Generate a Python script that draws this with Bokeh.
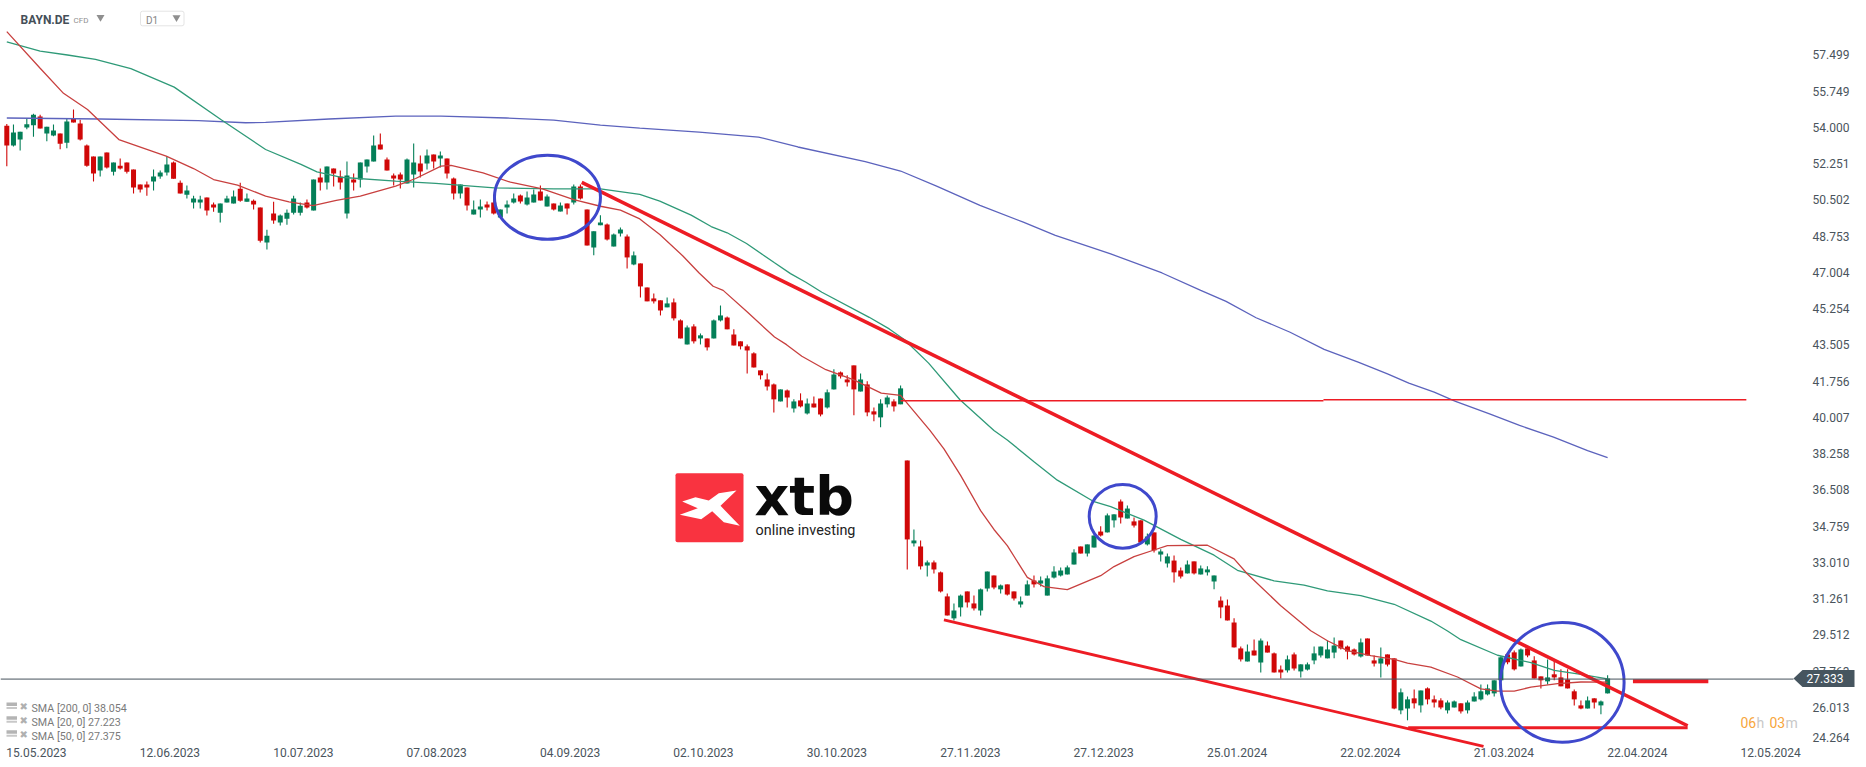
#!/usr/bin/env python3
"""
BAYN.DE daily chart with moving averages and hand drawn trend lines.

Values were read off the picture, so they are estimates.
"""

from bokeh.core.properties import value
from bokeh.embed import file_html
from bokeh.models import ColumnDataSource, FixedTicker, LinearAxis, Range1d
from bokeh.plotting import figure
from bokeh.resources import INLINE

opens = [
    54.08, 53.12, 53.41, 53.99, 54.10, 54.52, 53.70, 53.60, 53.70, 53.26,
    54.42, 54.18, 53.12, 52.59, 51.91, 52.78, 51.86, 52.15, 52.30, 51.96,
    51.24, 51.24, 51.38, 51.62, 51.82, 52.30, 51.33, 50.75, 50.37, 50.37,
    50.61, 50.27, 49.88, 50.37, 50.32, 51.04, 50.41, 50.46, 50.13, 48.44,
    49.84, 49.40, 49.59, 49.88, 49.88, 50.37, 49.99, 51.58, 51.34, 52.01,
    51.63, 49.84, 51.48, 51.48, 52.11, 52.35, 53.17, 52.45, 51.67, 51.72,
    51.29, 51.72, 52.25, 52.25, 52.69, 52.50, 52.50, 51.53, 50.81, 51.10,
    49.79, 50.03, 50.27, 50.37, 49.65, 50.13, 50.37, 50.71, 50.27, 50.37,
    50.90, 50.18, 50.32, 49.94, 50.32, 50.37, 51.14, 50.03, 48.20, 49.27,
    49.31, 48.25, 48.88, 48.73, 47.38, 47.43, 46.27, 45.74, 45.65, 45.31,
    45.55, 44.68, 43.52, 44.39, 43.81, 43.81, 43.81, 44.68, 44.82, 44.00,
    43.67, 43.43, 43.09, 42.27, 41.83, 41.59, 40.77, 41.30, 40.43, 40.82,
    40.19, 40.67, 40.91, 40.48, 41.35, 42.17, 41.83, 42.51, 41.25, 41.59,
    40.29, 40.00, 40.63, 40.77, 40.63, 37.92, 33.92, 33.77, 32.85, 33.00,
    32.52, 31.36, 30.30, 30.83, 31.60, 31.02, 30.68, 31.74, 32.37, 31.70,
    31.94, 31.60, 30.97, 31.40, 32.13, 31.98, 31.40, 32.27, 32.37, 32.42,
    32.90, 33.77, 33.43, 33.72, 34.49, 34.45, 35.03, 35.94, 35.12, 34.98,
    35.03, 33.87, 34.45, 33.38, 32.95, 33.09, 32.61, 32.47, 33.05, 32.42,
    32.52, 32.08, 31.16, 30.92, 30.10, 28.85, 28.22, 28.75, 28.17, 28.99,
    28.61, 27.83, 27.79, 28.56, 27.74, 27.83, 28.27, 28.51, 28.37, 28.65,
    29.23, 28.94, 28.80, 28.46, 29.33, 28.27, 28.12, 28.56, 28.37, 25.86,
    25.95, 26.44, 26.10, 26.92, 26.39, 26.34, 25.86, 26.00, 26.20, 25.86,
    26.29, 26.39, 26.63, 26.68, 27.31, 28.56, 28.66, 27.98, 28.85, 28.27,
    27.50, 27.26, 27.60, 27.45, 27.35, 26.78, 26.10, 25.95, 26.44, 26.10,
    26.68,
]
closes = [
    53.12, 53.75, 53.79, 54.15, 54.61, 53.94, 54.03, 53.84, 53.21, 54.28,
    54.23, 53.41, 52.15, 51.77, 52.59, 52.06, 52.30, 52.01, 51.86, 51.09,
    51.00, 51.09, 51.62, 51.82, 52.20, 51.52, 50.80, 50.95, 50.56, 50.51,
    49.98, 50.13, 50.32, 50.56, 50.66, 50.46, 50.56, 50.27, 48.53, 48.77,
    49.50, 49.74, 49.88, 50.56, 50.22, 50.13, 51.48, 51.34, 52.11, 51.77,
    51.34, 51.67, 51.34, 52.30, 52.45, 53.12, 52.93, 51.92, 51.53, 51.48,
    52.45, 52.30, 51.87, 52.64, 52.35, 52.64, 51.77, 50.81, 51.24, 50.23,
    50.03, 50.18, 50.13, 49.84, 50.03, 50.27, 50.57, 50.42, 50.61, 50.76,
    50.47, 50.66, 50.03, 50.23, 50.08, 51.14, 50.57, 48.30, 48.98, 49.41,
    48.59, 48.83, 49.07, 47.72, 47.82, 46.32, 45.60, 45.60, 45.16, 45.50,
    44.78, 43.81, 44.34, 43.67, 43.96, 43.38, 44.68, 44.92, 44.25, 43.47,
    43.43, 43.23, 42.41, 42.03, 41.49, 40.87, 41.35, 40.96, 40.77, 40.53,
    40.67, 40.48, 40.14, 41.21, 42.07, 41.98, 41.69, 41.35, 41.83, 40.24,
    40.14, 40.67, 40.96, 40.53, 41.40, 34.11, 34.06, 32.81, 33.00, 32.66,
    31.60, 30.44, 30.68, 31.40, 31.07, 30.78, 31.70, 32.56, 31.79, 31.89,
    31.45, 31.26, 31.12, 31.94, 31.94, 32.13, 32.23, 32.56, 32.61, 32.76,
    33.48, 33.43, 33.87, 34.30, 34.30, 35.27, 35.32, 35.17, 35.60, 34.78,
    33.96, 34.25, 33.58, 33.53, 33.29, 32.52, 32.32, 32.90, 32.47, 32.71,
    32.66, 32.37, 30.83, 30.20, 28.90, 28.32, 28.70, 28.51, 29.23, 28.65,
    27.69, 27.69, 28.32, 27.88, 28.08, 28.08, 28.61, 28.94, 28.80, 28.99,
    28.85, 28.70, 28.56, 29.14, 28.51, 28.12, 28.37, 28.07, 25.95, 26.73,
    26.39, 26.20, 26.82, 26.39, 26.24, 26.00, 26.24, 26.29, 25.81, 26.24,
    26.53, 26.78, 26.92, 27.31, 28.42, 28.18, 27.84, 28.80, 28.51, 27.40,
    27.31, 27.45, 27.45, 27.02, 26.92, 26.39, 25.95, 26.34, 26.24, 26.29,
    27.40,
]
highs = [
    54.16, 54.13, 53.79, 54.45, 54.65, 54.61, 54.03, 54.13, 53.70, 54.45,
    54.86, 54.37, 53.17, 52.59, 52.59, 52.78, 52.30, 52.49, 52.30, 51.96,
    51.24, 51.38, 51.96, 51.91, 52.59, 52.35, 51.43, 51.19, 50.70, 50.70,
    50.61, 50.37, 50.32, 50.70, 50.95, 51.33, 50.80, 50.51, 50.13, 49.06,
    50.41, 49.79, 50.03, 50.70, 50.37, 50.52, 51.48, 52.01, 52.11, 52.01,
    51.92, 52.35, 51.77, 52.30, 52.45, 53.61, 53.70, 52.54, 51.77, 51.82,
    52.50, 53.22, 52.64, 52.93, 52.69, 52.83, 52.50, 51.58, 51.24, 51.10,
    50.47, 50.52, 50.42, 50.76, 50.03, 50.47, 50.81, 50.76, 50.90, 51.00,
    51.19, 50.76, 50.32, 50.37, 50.32, 51.24, 51.24, 50.03, 48.98, 49.75,
    49.36, 48.88, 49.17, 48.83, 48.01, 47.43, 46.27, 45.98, 45.65, 45.79,
    45.74, 44.73, 44.44, 44.49, 44.05, 43.81, 44.73, 45.40, 44.87, 44.25,
    43.67, 43.52, 43.14, 42.27, 42.12, 41.64, 41.35, 41.35, 40.87, 41.16,
    40.91, 41.01, 40.91, 41.35, 42.32, 42.22, 42.03, 42.51, 42.12, 41.74,
    40.48, 40.87, 41.06, 40.87, 41.54, 37.92, 34.59, 34.06, 33.09, 33.09,
    32.56, 31.50, 31.02, 31.45, 31.60, 31.40, 31.74, 32.56, 32.37, 31.94,
    31.94, 31.60, 31.36, 32.13, 32.37, 32.32, 32.37, 32.81, 32.76, 32.85,
    33.63, 33.77, 33.87, 34.30, 34.74, 35.36, 35.32, 36.04, 35.75, 35.17,
    35.03, 34.40, 34.45, 33.63, 33.43, 33.34, 32.76, 33.09, 33.05, 32.85,
    32.81, 32.37, 31.36, 31.21, 30.30, 28.94, 29.04, 29.28, 29.33, 29.18,
    28.65, 28.03, 28.51, 28.65, 28.08, 28.17, 28.94, 28.94, 29.23, 29.38,
    29.23, 28.99, 28.85, 29.33, 29.33, 28.51, 28.90, 28.56, 28.37, 26.92,
    26.53, 26.87, 26.82, 26.97, 26.58, 26.44, 26.34, 26.34, 26.20, 26.34,
    26.73, 27.11, 27.11, 27.31, 28.47, 28.56, 28.75, 28.85, 28.95, 28.47,
    27.50, 28.32, 28.27, 27.84, 27.84, 26.87, 26.34, 26.53, 26.44, 26.34,
    27.55,
]
lows = [
    52.12, 53.07, 52.88, 53.91, 53.55, 53.94, 53.33, 53.57, 52.94, 52.99,
    54.23, 53.36, 52.10, 51.38, 51.62, 52.01, 51.67, 51.96, 51.77, 50.80,
    50.85, 50.70, 50.95, 51.52, 51.67, 51.52, 50.80, 50.56, 50.08, 50.08,
    49.74, 49.93, 49.40, 50.37, 50.32, 50.41, 50.41, 50.03, 48.44, 48.10,
    49.35, 49.26, 49.30, 49.79, 49.74, 50.08, 49.99, 50.95, 51.00, 51.14,
    51.00, 49.60, 50.95, 51.10, 51.82, 52.35, 52.93, 51.92, 51.19, 51.05,
    51.29, 51.10, 51.58, 51.96, 52.01, 52.06, 51.53, 50.52, 50.56, 49.99,
    49.79, 49.65, 49.99, 49.79, 49.65, 49.84, 50.32, 50.32, 50.23, 50.37,
    50.47, 50.18, 49.99, 49.94, 49.79, 50.27, 50.52, 48.30, 47.82, 49.27,
    48.54, 48.25, 48.73, 47.19, 47.34, 45.79, 45.60, 45.50, 44.92, 45.31,
    44.68, 43.81, 43.52, 43.57, 43.52, 43.23, 43.81, 44.63, 44.25, 43.47,
    43.28, 42.12, 42.41, 41.83, 41.30, 40.24, 40.77, 40.48, 40.24, 40.48,
    40.14, 40.48, 40.05, 40.43, 41.35, 41.88, 41.49, 40.10, 41.25, 40.05,
    39.81, 39.52, 40.48, 40.29, 40.63, 32.66, 33.77, 32.66, 32.32, 32.47,
    31.55, 30.44, 30.20, 30.39, 30.83, 30.68, 30.44, 31.60, 31.70, 31.50,
    31.40, 31.16, 30.83, 31.40, 31.79, 31.84, 31.40, 32.23, 32.32, 32.42,
    32.90, 33.43, 33.29, 33.72, 34.25, 34.45, 34.69, 34.88, 35.12, 34.69,
    33.92, 33.82, 33.48, 33.05, 32.76, 32.03, 32.23, 32.47, 32.42, 32.42,
    32.37, 31.70, 30.30, 30.20, 28.90, 28.22, 28.22, 28.51, 27.69, 28.65,
    27.69, 27.40, 27.69, 27.79, 27.45, 27.79, 28.08, 28.41, 28.37, 28.37,
    28.80, 28.32, 28.51, 28.41, 28.51, 27.98, 27.45, 27.98, 25.91, 25.67,
    25.38, 25.95, 25.76, 26.15, 26.00, 25.91, 25.71, 26.00, 25.71, 25.71,
    26.29, 26.34, 26.58, 26.53, 27.31, 28.08, 27.79, 27.98, 28.42, 27.40,
    26.92, 27.11, 27.31, 27.02, 26.92, 26.10, 25.91, 25.95, 25.95, 25.67,
    26.68,
]

sma200_bars = [
    0, 13.9, 28.7, 35.8, 38.8, 48.3, 58.3, 65.1, 74.9, 82, 89, 94.9, 103.8,
    112.7, 118.6, 128.7, 134, 139.4, 145.9, 152.4, 157.2, 165.5, 173.2, 179,
    182.8, 187.3, 192.4, 197.5, 202.6, 207, 210.2, 214, 217.2, 222.3, 226.8,
    231.9, 237, 240,
]
sma200_values = [
    54.45, 54.40, 54.32, 54.22, 54.24, 54.40, 54.54, 54.54, 54.45, 54.35,
    54.11, 53.96, 53.77, 53.53, 53.05, 52.34, 51.89, 51.16, 50.23, 49.42,
    48.78, 47.89, 46.97, 46.13, 45.60, 44.81, 44.11, 43.28, 42.67, 42.10,
    41.65, 41.22, 40.77, 40.17, 39.61, 39.05, 38.40, 38.054,
]
sma50_bars = [
    0, 5, 9.1, 13.3, 18.6, 25.1, 32.2, 38.8, 44.1, 46.5, 50, 58.3, 64.3, 73.1,
    82, 89, 94.9, 97.9, 102.6, 105.6, 108, 110.9, 115.1, 117.5, 119.8, 122.2,
    129.3, 132.3, 134.6, 138.2, 142.9, 148, 150, 154, 157.5, 163, 165.5, 170.5,
    176, 181, 184.5, 190, 194.5, 198, 203, 208, 213.5, 216, 218, 223.5, 228.5,
    232, 236, 240,
]
sma50_values = [
    58.12, 57.68, 57.49, 57.28, 56.83, 55.94, 54.35, 52.93, 52.21, 51.85,
    51.59, 51.40, 51.29, 51.08, 51.03, 51.03, 50.76, 50.44, 49.76, 49.21,
    48.91, 48.39, 47.46, 46.94, 46.52, 46.04, 44.83, 44.27, 43.75, 42.62,
    40.85, 39.37, 38.91, 37.86, 36.97, 35.93, 35.69, 35.04, 34.11, 33.35,
    32.62, 32.11, 31.90, 31.63, 31.40, 30.98, 30.17, 29.69, 29.27, 28.52,
    28.16, 27.79, 27.60, 27.375,
]
sma20_bars = [
    0, 5, 8.5, 12.1, 16.8, 23.9, 28, 31, 34.6, 38.8, 42.3, 45.9, 49.4, 53, 58.3,
    61.3, 65.1, 66.6, 71.4, 75.5, 80.3, 85, 89, 92, 94.9, 97.9, 101.4, 103.8,
    105.9, 107.4, 110.9, 115.1, 116.9, 119.2, 122.8, 126.9, 131.1, 134, 138.4,
    140.5, 143, 146, 148, 150, 153, 155.5, 159, 164, 166, 169, 172, 174, 180,
    184, 186, 191, 195.5, 198, 201, 204.5, 208, 210, 213.5, 217.5, 221, 223.5,
    226, 228.5, 232.5, 236, 240,
]
sma20_values = [
    58.62, 56.85, 55.64, 54.86, 53.41, 52.61, 52.01, 51.48, 51.21, 50.68, 50.40,
    50.22, 50.47, 50.68, 51.16, 51.53, 52.13, 52.16, 51.80, 51.35, 51.03, 50.51,
    50.19, 50.00, 49.58, 48.83, 47.78, 46.97, 46.33, 46.13, 45.12, 43.88, 43.51,
    42.95, 42.30, 41.82, 41.17, 41.06, 39.37, 38.48, 37.20, 35.50, 34.59, 33.81,
    32.28, 31.83, 31.69, 32.36, 32.80, 33.28, 33.60, 33.81, 33.83, 33.17, 32.44,
    30.91, 29.70, 29.22, 28.74, 28.50, 28.32, 28.14, 27.95, 27.47, 26.90, 26.79,
    26.79, 26.98, 27.15, 27.23, 27.223,
]

# Drawn by hand on the original chart: (bar, price) pairs for each line
upper_trend_bars = [86.2, 252]
upper_trend_prices = [51.34, 25.12]
lower_trend_bars = [[140.5, 221.4], [210.1, 252]]
lower_trend_prices = [[30.23, 24.12], [25.02, 25.02]]
stub_bars = [243.8, 255.1]
stub_prices = [27.26, 27.26]
level_bars = [[134, 197.4], [197.4, 260.8]]
level_prices = [[40.80, 40.80], [40.85, 40.85]]
circle_bars = [81.06, 167.3, 233.2]
circle_prices = [50.62, 35.22, 27.21]

x_tick_bars = [0, 20, 40, 60, 80, 100, 120, 140, 160, 180, 200, 220, 240, 260]
x_tick_labels = [
    "15.05.2023", "12.06.2023", "10.07.2023", "07.08.2023", "04.09.2023",
    "02.10.2023", "30.10.2023", "27.11.2023", "27.12.2023", "25.01.2024",
    "22.02.2024", "21.03.2024", "22.04.2024", "12.05.2024",
]
y_tick_labels = [
    "57.499", "55.749", "54.000", "52.251", "50.502", "48.753", "47.004",
    "45.254", "43.505", "41.756", "40.007", "38.258", "36.508", "34.759",
    "33.010", "31.261", "29.512", "27.763", "26.013", "24.264",
]
sma_legend = ["SMA  [200,  0] 38.054", "SMA  [20,  0] 27.223", "SMA  [50,  0] 27.375"]
last_price = 27.333
price_line_level = 27.37

UP_COLOR = "#047f58"
DOWN_COLOR = "#d00808"
TEXT_COLOR = "#4a545c"
LINE_RED = "#ed1c24"
CIRCLE_BLUE = "#3f48cc"

WIDTH = 1866
HEIGHT = 767
BAR_PX = 6.67
FIRST_BAR_PX = 6.3
PX_PER_PRICE = 20.72
TOP_PRICE = 60.12


def bar_from_px(px: float) -> float:
    """Bar index that sits at a horizontal pixel of the frame."""
    return (px - FIRST_BAR_PX) / BAR_PX


def price_from_px(px: float) -> float:
    """Price that sits at a vertical pixel of the frame."""
    return TOP_PRICE - px / PX_PER_PRICE


def px_text(p: figure, x: float, y: float, text: str, size: str, color: str,
            font: str = "Roboto", style: str = "normal",
            baseline: str = "middle") -> None:
    """Put a text at a pixel position of the page."""
    p.text(
        x=[x], y=[y], text=[text],
        x_range_name="px", y_range_name="px",
        text_font=value(font), text_font_size=size, text_font_style=style,
        text_color=color, text_baseline=baseline, text_align="left",
    )


def add_candles(p: figure) -> None:
    """Draw the wicks and bodies, coloured by direction."""
    colors = [UP_COLOR if c > o else DOWN_COLOR for o, c in zip(opens, closes)]
    source = ColumnDataSource(data=dict(
        bar=list(range(len(opens))),
        top=[max(o, c) for o, c in zip(opens, closes)],
        bottom=[min(o, c) for o, c in zip(opens, closes)],
        high=highs,
        low=lows,
        color=colors,
    ))
    p.segment(x0="bar", y0="high", x1="bar", y1="low", line_color="color",
              line_width=1.1, source=source)
    p.vbar(x="bar", top="top", bottom="bottom", width=0.75, fill_color="color",
           line_color=None, source=source)


def add_studies(p: figure) -> None:
    """Draw the moving averages, the trend lines and the circles."""
    p.line(sma200_bars, sma200_values, line_color="#5c63bd", line_width=1.3)
    p.line(sma50_bars, sma50_values, line_color="#2f9a78", line_width=1.3)
    p.line(sma20_bars, sma20_values, line_color="#c8403f", line_width=1.3)

    p.multi_line(level_bars, level_prices, line_color=LINE_RED, line_width=1.4)
    p.line(upper_trend_bars, upper_trend_prices, line_color=LINE_RED, line_width=3.5)
    p.multi_line(lower_trend_bars, lower_trend_prices, line_color=LINE_RED,
                 line_width=2.8)
    p.line(stub_bars, stub_prices, line_color=LINE_RED, line_width=4)
    p.ellipse(
        x=circle_bars, y=circle_prices,
        width=[106, 67, 123.7], height=[84, 63.7, 119.7],
        width_units="screen", height_units="screen",
        fill_color=None, line_color=CIRCLE_BLUE, line_width=3,
    )


def add_axes(p: figure) -> None:
    """Tick labels sit inside the frame, so both axes get a fixed location."""
    x_ticks = [bar + 4.45 for bar in x_tick_bars]
    xaxis = LinearAxis(
        fixed_location=price_from_px(741.5),
        ticker=FixedTicker(ticks=x_ticks),
        major_label_overrides=dict(zip(x_ticks, x_tick_labels)),
    )
    y_ticks = [57.499 - 1.7495 * i for i in range(len(y_tick_labels))]
    # The lowest label is pushed up so that it stays on the page
    y_ticks[-1] = 24.55
    yaxis = LinearAxis(
        fixed_location=bar_from_px(1806),
        ticker=FixedTicker(ticks=y_ticks),
        major_label_overrides=dict(zip(y_ticks, y_tick_labels)),
    )
    for axis in (xaxis, yaxis):
        axis.axis_line_color = None
        axis.major_tick_line_color = None
        axis.minor_tick_line_color = None
        axis.major_label_standoff = 0
        axis.major_label_text_font = "Roboto"
        axis.major_label_text_font_size = "12px"
        axis.major_label_text_color = TEXT_COLOR
    p.add_layout(xaxis, "below")
    p.add_layout(yaxis, "right")


def add_price_tag(p: figure) -> None:
    """Current price line and the tag at its end."""
    p.line([0, 1793], [price_line_level, price_line_level], x_range_name="px",
           line_color="#45525c", line_width=1)
    p.patch(
        x=[1793, 1802, 1854, 1854, 1802], y=[678, 669.5, 669.5, 686.5, 686.5],
        x_range_name="px", y_range_name="px",
        fill_color="#46555f", line_color=None, level="overlay",
    )
    p.text(
        x=[1806], y=[678], text=[f"{last_price:.3f}"],
        x_range_name="px", y_range_name="px",
        text_font=value("Roboto"), text_font_size="12px", text_color="white",
        text_baseline="middle", level="overlay",
    )
    for x, text, color in [(1740, "06", "#f7a63c"), (1756, "h", "#c8c8c8"),
                           (1769, "03", "#f7a63c"), (1785, "m", "#c8c8c8")]:
        px_text(p, x, 722, text, "14px", color)


def add_header(p: figure) -> None:
    """Symbol, timeframe box and the list of studies."""
    px_text(p, 20, 19.5, "BAYN.DE", "12px", "#454f58", style="bold")
    px_text(p, 73, 20, "CFD", "8px", "#8f8f8f")
    p.quad(left=[140], right=[183.5], top=[10.7], bottom=[25.3],
           x_range_name="px", y_range_name="px", border_radius=2,
           fill_color=None, line_color="#e4e4e4", line_width=1)
    px_text(p, 145.5, 20, "D1", "10px", "#858585")
    p.scatter(x=[100, 176], y=[16.7, 17], marker="inverted_triangle", size=8,
              x_range_name="px", y_range_name="px",
              fill_color="#8f8f8f", line_color=None)

    for row, text in zip([708, 721.7, 735.7], sma_legend):
        p.quad(left=[6], right=[16.5], top=[row - 6], bottom=[row - 2.5],
               x_range_name="px", y_range_name="px",
               fill_color="#b4b4b4", line_color=None)
        p.quad(left=[6], right=[16.5], top=[row - 1.5], bottom=[row + 0.5],
               x_range_name="px", y_range_name="px",
               fill_color="#c8c8c8", line_color=None)
        px_text(p, 19, row - 2, "\u2716", "10px", "#b0b0b0", font="DejaVu Sans")
        px_text(p, 31, row, text, "10.7px", "#7a7a7a")


def add_logo(p: figure) -> None:
    """XTB logo in the middle of the chart."""
    p.quad(left=[675], right=[743], top=[472.7], bottom=[541.7],
           x_range_name="px", y_range_name="px", border_radius=2,
           fill_color="#f93340", line_color=None)
    p.patch(
        x=[736, 718.3, 708.3, 695, 681.7, 697.3, 679.3, 700.7, 711.7, 723.3,
           739.3, 720],
        y=[490, 492.7, 500, 496.7, 501, 507.7, 514.3, 518.7, 510.7, 521.7,
           525.3, 505.3],
        x_range_name="px", y_range_name="px",
        fill_color="white", line_color=None,
    )
    # The alphabetic baseline lands about 0.46 of the font size lower here
    px_text(p, 754, 495.5, "xtb", "54px", "#0a0a0a", font="DejaVu Sans", style="bold",
            baseline="alphabetic")
    px_text(p, 755, 530, "online investing", "14.4px", "#222222",
            baseline="alphabetic")


def plot_chart() -> figure:
    """Build the whole chart on one frame that fills the figure."""
    p = figure(
        width=WIDTH,
        height=HEIGHT,
        x_range=Range1d(bar_from_px(0), bar_from_px(WIDTH)),
        y_range=Range1d(price_from_px(HEIGHT), price_from_px(0)),
        x_axis_type=None,
        y_axis_type=None,
        output_backend="svg",
        toolbar_location=None,
        min_border=0,
        outline_line_color=None,
        margin=0,
    )
    p.grid.visible = False
    p.extra_x_ranges["px"] = Range1d(0, WIDTH)
    p.extra_y_ranges["px"] = Range1d(HEIGHT, 0)

    add_candles(p)
    add_logo(p)
    add_studies(p)
    add_axes(p)
    add_price_tag(p)
    add_header(p)
    return p


if __name__ == "__main__":
    chart = plot_chart()
    open("out.html", "w").write(file_html(chart, INLINE))
